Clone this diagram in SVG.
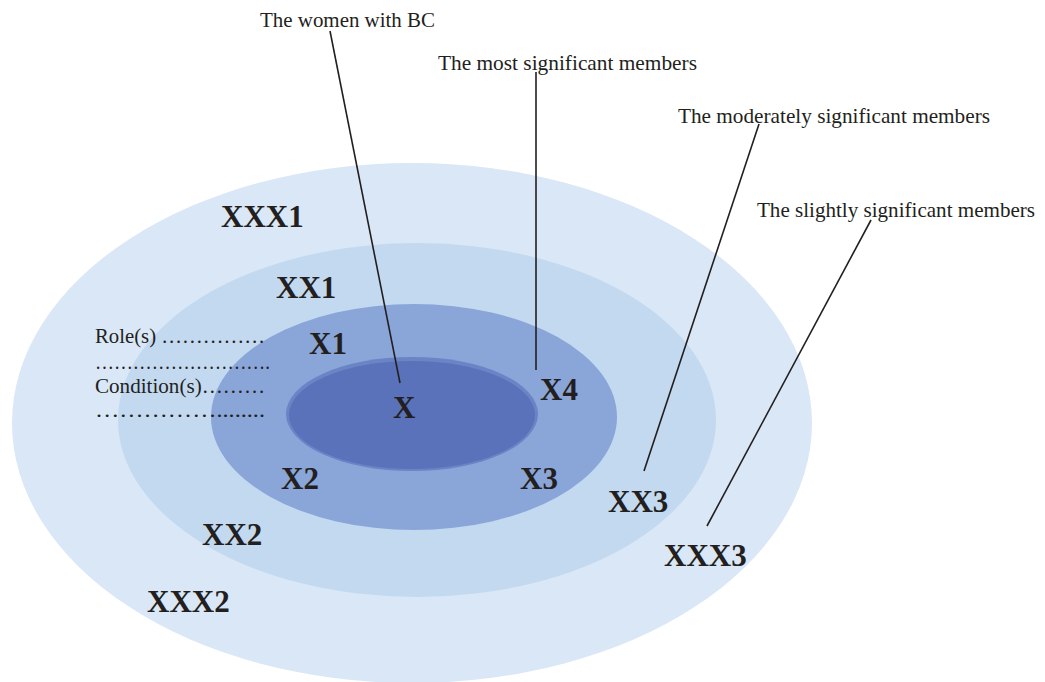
<svg xmlns="http://www.w3.org/2000/svg" width="1045" height="682" viewBox="0 0 1045 682">
<style>
.lbl{font-family:"Liberation Serif","Times New Roman",serif;font-size:21px;fill:#231f20}
.big{font-family:"Liberation Serif","Times New Roman",serif;font-size:31px;font-weight:bold;fill:#231f20}
.side{font-family:"Liberation Serif","Times New Roman",serif;font-size:20.5px;fill:#231f20}
.con{stroke:#231f20;stroke-width:1.6;fill:none}
</style>
<rect width="1045" height="682" fill="#ffffff"/>
<g id="ring-outer"><ellipse cx="412" cy="423" rx="400" ry="260" fill="#dae7f6"/></g>
<g id="ring-second"><ellipse cx="417" cy="420" rx="299" ry="177" fill="#c3d9f0"/></g>
<g id="ring-third"><ellipse cx="414" cy="417" rx="203" ry="113" fill="#8aa5d8"/></g>
<g id="core">
<ellipse cx="412" cy="414" rx="126" ry="57" fill="#6a84c6"/>
<ellipse cx="412" cy="415" rx="123" ry="54" fill="#5a72b9"/>
</g>
<g id="connectors">
<line class="con" x1="330" y1="31" x2="400" y2="383"/>
<line class="con" x1="536" y1="72" x2="536" y2="370"/>
<line class="con" x1="759" y1="124" x2="644" y2="471"/>
<line class="con" x1="871" y1="220" x2="707" y2="526"/>
</g>
<g id="captions">
<text class="lbl" x="260" y="27" textLength="175" lengthAdjust="spacingAndGlyphs">The women with BC</text>
<text class="lbl" x="438" y="70" textLength="259" lengthAdjust="spacingAndGlyphs">The most significant members</text>
<text class="lbl" x="678" y="123" textLength="312" lengthAdjust="spacingAndGlyphs">The moderately significant members</text>
<text class="lbl" x="757" y="217" textLength="278" lengthAdjust="spacingAndGlyphs">The slightly significant members</text>
</g>
<g id="labels">
<text class="big" x="221" y="227">XXX1</text>
<text class="big" x="276" y="298">XX1</text>
<text class="big" x="309" y="354">X1</text>
<text class="big" x="393" y="418">X</text>
<text class="big" x="540" y="400">X4</text>
<text class="big" x="281" y="489">X2</text>
<text class="big" x="520" y="489">X3</text>
<text class="big" x="608" y="512">XX3</text>
<text class="big" x="202" y="545">XX2</text>
<text class="big" x="664" y="566">XXX3</text>
<text class="big" x="147" y="612">XXX2</text>
</g>
<g id="notes">
<text class="side" x="95" y="343" textLength="170" lengthAdjust="spacingAndGlyphs">Role(s) ……………</text>
<text class="side" x="95" y="369" textLength="175" lengthAdjust="spacingAndGlyphs">……………………….</text>
<text class="side" x="95" y="393" textLength="170" lengthAdjust="spacingAndGlyphs">Condition(s)………</text>
<text class="side" x="95" y="417" textLength="170" lengthAdjust="spacingAndGlyphs">……………........</text>
</g>
</svg>
